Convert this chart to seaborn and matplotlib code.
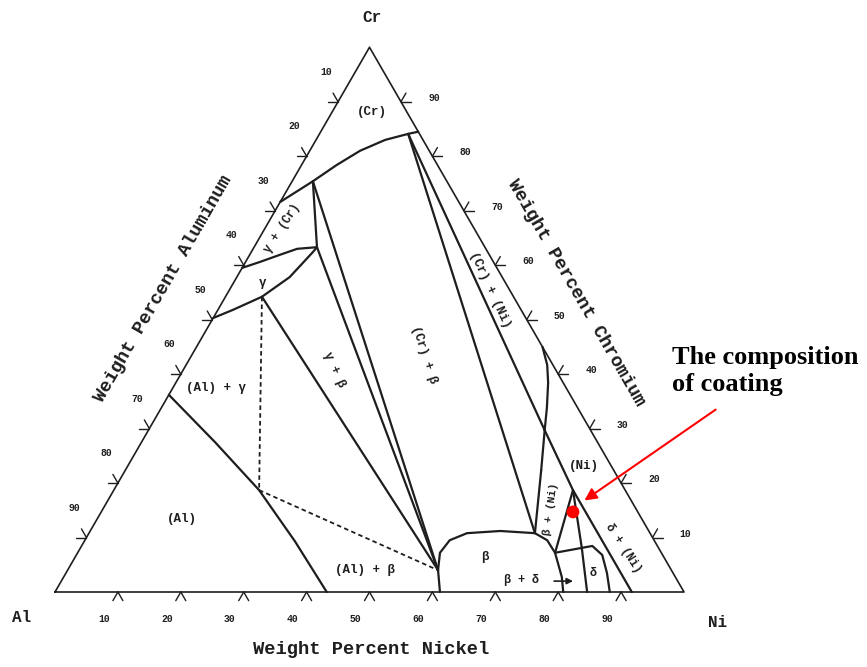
import numpy as np
import pandas as pd
import matplotlib
matplotlib.use("Agg")
import matplotlib.pyplot as plt
import seaborn as sns

# Phase boundaries, as (wt% Ni, wt% Cr); Al is the balance
cr_solvus_ni = [0, 3.3, 5.6, 8.0, 11.0, 14.1, 15.5]
cr_solvus_cr = [71.6, 75.4, 78.4, 81.0, 83.0, 84.1, 84.5]

gamma_upper_ni = [0, 2.3, 4.8, 7.0, 10.0]
gamma_upper_cr = [59.5, 60.6, 61.9, 63.0, 63.3]

gamma_lower_ni = [0, 2.4, 5.8, 8.4, 9.8, 10.0]
gamma_lower_cr = [50.3, 51.8, 54.2, 57.8, 62.4, 63.3]

al_solvus_ni = [0, 11.7, 23.1, 33.5, 43.2]
al_solvus_cr = [36.2, 27.5, 18.7, 9.3, 0]

beta_ni = [61.2, 58.9, 57.6, 58.0, 60.1, 65.2, 70.9, 73.5, 75.9, 79.2, 80.8]
beta_cr = [0, 4.0, 7.2, 9.5, 10.8, 11.2, 10.8, 9.5, 7.2, 2.75, 0]

ni_solvus_ni = [55.0, 57.4, 59.2, 61.3, 63.0]
ni_solvus_cr = [45.0, 41.7, 38.4, 33.8, 29.7]

ni_edge_ni = [63.0, 73.0, 91.7]
ni_edge_cr = [29.7, 18.7, 0]

delta_right_ni = [79.7, 81.2, 83.6, 86.0, 88.2]
delta_right_cr = [8.1, 8.45, 6.8, 3.5, 0]

delta_left_ni = [73.0, 79.7, 84.6]
delta_left_cr = [18.7, 8.1, 0]

# straight tie lines: (ni0, cr0, ni1, cr1)
tie_lines = [
    (3.3, 75.4, 10.0, 63.3),   # (Cr) / gamma
    (5.8, 54.2, 58.9, 4.0),    # gamma + beta, left
    (10.0, 63.3, 58.9, 4.0),   # gamma + beta, right
    (3.3, 75.4, 58.9, 4.0),    # (Cr) + beta, left
    (14.1, 84.1, 70.9, 10.8),  # (Cr) + beta, right
    (14.1, 84.1, 63.0, 29.7),  # (Cr) + (Ni)
    (63.0, 29.7, 66.1, 22.4),
    (66.1, 22.4, 70.9, 10.8),
    (73.0, 18.7, 75.9, 7.2),
    (75.9, 7.2, 79.7, 8.1),
]
dashed_lines = [
    (5.8, 54.2, 23.1, 18.7),
    (23.1, 18.7, 58.9, 4.0),
]

coating_ni = [75.0]
coating_cr = [14.7]

tick_values = [10, 20, 30, 40, 50, 60, 70, 80, 90]

SQ = np.sqrt(3) / 2
PX = 1 / 629  # one pixel in triangle units


def to_xy(ni, cr):
    ni = np.asarray(ni, dtype=float)
    cr = np.asarray(cr, dtype=float)
    return (ni + cr / 2) / 100, cr / 100 * SQ


# Collect boundaries into one frame for seaborn
curves = [
    (cr_solvus_ni, cr_solvus_cr), (gamma_upper_ni, gamma_upper_cr),
    (gamma_lower_ni, gamma_lower_cr), (al_solvus_ni, al_solvus_cr),
    (beta_ni, beta_cr), (ni_solvus_ni, ni_solvus_cr),
    (ni_edge_ni, ni_edge_cr), (delta_right_ni, delta_right_cr),
    (delta_left_ni, delta_left_cr),
]
curves += [([a, c], [b, d]) for a, b, c, d in tie_lines]

rows = []
for i, (n, c) in enumerate(curves):
    x, y = to_xy(n, c)
    rows += [{"seg": i, "x": xx, "y": yy} for xx, yy in zip(x, y)]
solid = pd.DataFrame(rows)

rows = []
for i, (a, b, c, d) in enumerate(dashed_lines):
    x, y = to_xy([a, c], [b, d])
    rows += [{"seg": i, "x": xx, "y": yy} for xx, yy in zip(x, y)]
dashed = pd.DataFrame(rows)

sns.set_style("white")
plt.rcParams["font.family"] = ["Liberation Mono", "DejaVu Sans Mono"]

fig = plt.figure(figsize=(8.67, 6.67), dpi=100)
ax = fig.add_axes([0, 0, 1, 1])
ax.set_axis_off()

ink = "#1e1e1e"

# Triangle frame
fx, fy = to_xy([0, 100, 0, 0], [0, 0, 100, 0])
ax.plot(fx, fy, color=ink, lw=1.2)

sns.lineplot(data=solid, x="x", y="y", units="seg", estimator=None,
             sort=False, color=ink, lw=1.6, ax=ax, legend=False)
sns.lineplot(data=dashed, x="x", y="y", units="seg", estimator=None,
             sort=False, color=ink, lw=1.3, ax=ax, legend=False,
             dashes=False, linestyle=(0, (2.5, 1.8)))

# Chevron ticks and tick labels
L = 10 * PX
for k in tick_values:
    # bottom edge (Ni)
    x, y = to_xy(k, 0)
    for ang in (240, 300):
        ax.plot([x, x + L * np.cos(np.radians(ang))],
                [y, y + L * np.sin(np.radians(ang))], color=ink, lw=1.0)
    ax.text(x - 14 * PX, y - 27 * PX, str(k), ha="center", va="center",
            fontsize=7, fontweight="bold", color=ink)
    # left edge (Al)
    x, y = to_xy(0, 100 - k)
    for ang in (180, 120):
        ax.plot([x, x + L * np.cos(np.radians(ang))],
                [y, y + L * np.sin(np.radians(ang))], color=ink, lw=1.0)
    ax.text(x - 12 * PX, y + 30 * PX, str(k), ha="center", va="center",
            fontsize=7, fontweight="bold", color=ink)
    # right edge (Cr)
    x, y = to_xy(100 - k, k)
    for ang in (0, 60):
        ax.plot([x, x + L * np.cos(np.radians(ang))],
                [y, y + L * np.sin(np.radians(ang))], color=ink, lw=1.0)
    ax.text(x + 33 * PX, y + 4 * PX, str(k), ha="center", va="center",
            fontsize=7, fontweight="bold", color=ink)


def label(ni, cr, s, rot=0, size=9):
    x, y = to_xy(ni, cr)
    ax.text(x, y, s, ha="center", va="center", rotation=rot,
            rotation_mode="anchor", fontsize=size, fontweight="bold", color=ink)


label(6.3, 88.1, "(Cr)")
label(2.7, 66.8, "γ + (Cr)", rot=57, size=8.5)
label(4.7, 56.7, "γ")
label(6.9, 37.4, "(Al) + γ")
label(13.5, 13.4, "(Al)")
label(47.3, 4.0, "(Al) + β")
label(24.0, 40.9, "γ + β", rot=-66)
label(36.9, 43.5, "(Cr) + β", rot=-72)
label(41.4, 55.4, "(Cr) + (Ni)", rot=-65)
label(72.5, 23.1, "(Ni)")
label(71.2, 15.2, "β + (Ni)", rot=82, size=8)
label(65.2, 6.4, "β")
label(73.0, 2.2, "β + δ", size=8.5)
label(83.8, 3.5, "δ", size=8.5)
label(86.3, 8.1, "δ + (Ni)", rot=-57, size=8.5)

# small arrow pointing into the narrow beta + delta field
ax.annotate("", xy=to_xy(81.8, 2.0), xytext=to_xy(77.9, 2.0),
            arrowprops=dict(arrowstyle="-|>", color=ink, lw=1.2,
                            mutation_scale=9))

# Axis titles and corners
ax.text(0.502, -0.091, "Weight Percent Nickel", ha="center", va="center",
        fontsize=13.5, fontweight="bold", color=ink)
ax.text(0.172, 0.482, "Weight Percent Aluminum", ha="center", va="center",
        rotation=60, fontsize=13.5, fontweight="bold", color=ink)
ax.text(0.828, 0.475, "Weight Percent Chromium", ha="center", va="center",
        rotation=-60, fontsize=13.5, fontweight="bold", color=ink)
ax.text(0.504, 0.913, "Cr", ha="center", va="center", fontsize=11.5,
        fontweight="bold", color=ink)
ax.text(-0.053, -0.041, "Al", ha="center", va="center", fontsize=11.5,
        fontweight="bold", color=ink)
ax.text(1.054, -0.049, "Ni", ha="center", va="center", fontsize=11.5,
        fontweight="bold", color=ink)

# Coating composition
cx, cy = to_xy(coating_ni, coating_cr)
sns.scatterplot(x=cx, y=cy, color="red", s=85, edgecolor="none", ax=ax,
                zorder=5, legend=False)
ax.annotate("", xy=(0.838, 0.143), xytext=(1.054, 0.2925),
            arrowprops=dict(arrowstyle="-|>", color="red", lw=1.5,
                            mutation_scale=18))
ax.text(0.981, 0.351, "The composition\nof coating", ha="left", va="center",
        fontsize=19, fontweight="bold", family="Liberation Serif",
        linespacing=1.2, color="black")

ax.set_xlim(-55 * PX, 812 * PX)
ax.set_ylim(-75 * PX, 592 * PX)

fig.savefig("out.png", dpi=100)
